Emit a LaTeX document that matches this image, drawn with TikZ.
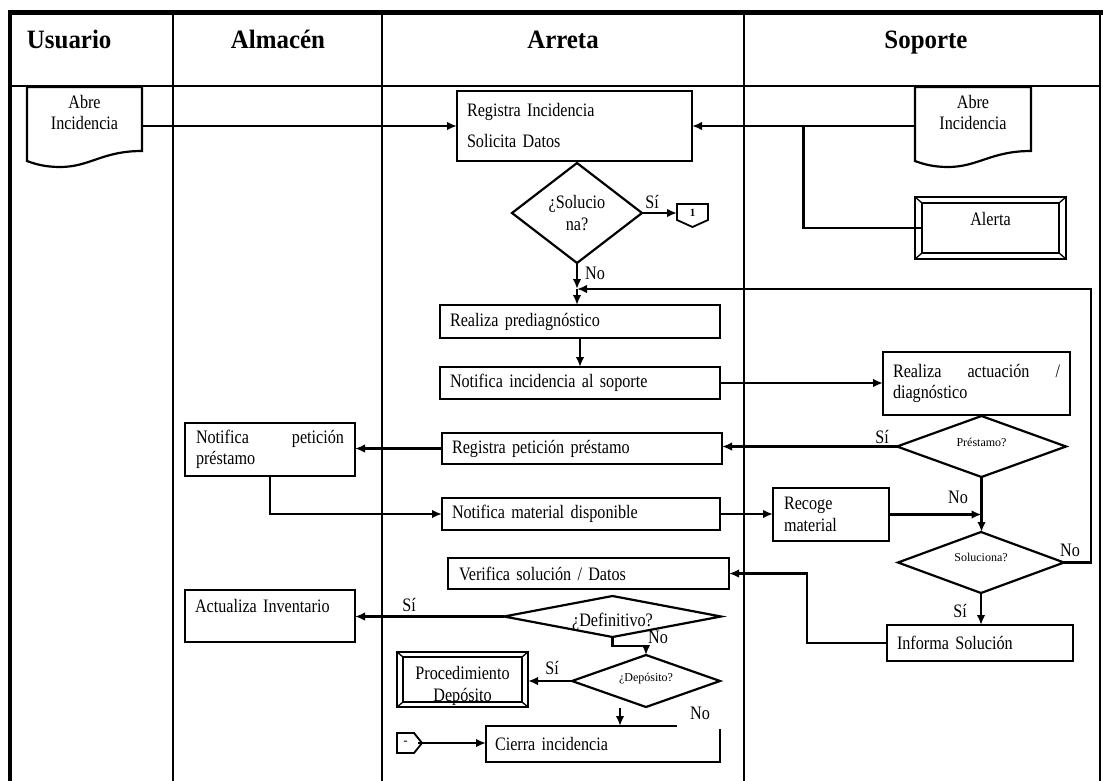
\documentclass[tikz,border=0pt]{standalone}
\usepackage{fontspec}
\setmainfont{Liberation Serif}
\newfontfamily\narrowserif[FakeStretch=0.85,WordSpace=0.85]{Liberation Serif}
\newfontfamily\headserif[FakeStretch=0.94]{Liberation Serif}
\usetikzlibrary{arrows.meta,calc}

% bevelled frame inside a drawn node: inner rectangle and corner cuts
\newcommand\bevelframe[3]{%
  \draw[line width=1.4pt] ($(#1.north west)+(#2,-#3)$) rectangle ($(#1.south east)+(-#2,#3)$);
  \draw[line width=1.3pt] (#1.north west) -- ++(#2,-#3) (#1.north east) -- ++(-#2,-#3)
        (#1.south west) -- ++(#2,#3) (#1.south east) -- ++(-#2,#3);}
% document symbol with a wavy lower edge below the node
\newcommand\docpath[1]{%
  \draw[shp] (#1.north west) -- (#1.north east) -- (#1.south east)
    .. controls +(-40,0) and +(30,0) .. ($(#1.south west)+(33,-16)$)
    .. controls +(-15,0) and +(8,-3) .. ($(#1.south west)+(0,-10)$) -- cycle;}
% decision symbol through the mid-points of a node's sides
\newcommand\diampath[1]{%
  \draw[shp] (#1.west) -- (#1.north) -- (#1.east) -- (#1.south) -- cycle;}

\begin{document}
\begin{tikzpicture}[x=1pt,y=1pt,
  every node/.style={inner sep=0pt,outer sep=0pt},
  body/.style={font=\narrowserif\fontsize{19}{21.5}\selectfont},
  small/.style={font=\fontsize{12}{14}\selectfont},
  head/.style={font=\headserif\fontsize{26.5}{30}\selectfont\bfseries},
  lane/.style={line width=2.9pt},
  shp/.style={line width=2.2pt},
  wire/.style={line width=2.2pt},
  arr/.style={line width=2.2pt,-{Latex[length=10pt,width=8.5pt]}},
  box/.style={draw,line width=2.2pt,body,inner xsep=10pt,align=left},
  plainbox/.style={body,inner xsep=9pt,align=left},
  bevel/.style={draw,line width=2.6pt,body,align=center},
  docn/.style={body,align=center},
  dia/.style={body,align=center},
  lbl/.style={body}]

\useasboundingbox (0,0) rectangle (1103,-781);

% lanes and header
\draw[line width=5pt] (8,-13) -- (1103,-13);
\draw[line width=3.2pt] (10,-13) -- (10,-781);
\draw[lane] (173,-13) -- (173,-781);
\draw[lane] (382,-13) -- (382,-781);
\draw[lane] (744,-13) -- (744,-781);
\draw[lane] (1100,-13) -- (1100,-781);
\draw[line width=2.7pt] (10,-86) -- (1100,-86);

\node[head,anchor=base west] (hU) at (27,-49) {Usuario};
\node[head,anchor=base] (hA) at (278,-49) {Almacén};
\node[head,anchor=base] (hR) at (563,-49) {Arreta};
\node[head,anchor=base] (hS) at (926,-49) {Soporte};

% documents
\node[docn,minimum width=115pt,minimum height=64pt] (abU) at (84.5,-119)
  {Abre\\Incidencia\rule[-13pt]{0pt}{13pt}};
\docpath{abU}
\node[docn,minimum width=116pt,minimum height=64pt] (abS) at (973,-119)
  {Abre\\Incidencia\rule[-13pt]{0pt}{13pt}};
\docpath{abS}

% Arreta lane
\node[box,minimum width=235pt,minimum height=70pt,text width=215pt] (reg) at (574.5,-126)
  {Registra Incidencia\\[9.5pt]Solicita Datos};
\node[dia,minimum width=130pt,minimum height=100pt] (sol) at (577,-213) {¿Solucio\\na?};
\diampath{sol}
\node[font=\fontsize{11}{12}\selectfont\bfseries,minimum width=31pt,minimum height=23pt,
  text height=8pt,text depth=7pt] (conn1) at (692.5,-215.5) {1};
\draw[line width=1.8pt] (conn1.north west) -- (conn1.north east) -- ($(conn1.south east)+(0,7)$)
  -- (conn1.south) -- ($(conn1.south west)+(0,7)$) -- cycle;

\node[box,minimum width=280pt,minimum height=33pt,text width=260pt] (pre) at (580,-321.5) {Realiza prediagnóstico};
\node[box,minimum width=280pt,minimum height=32pt,text width=260pt] (notif) at (580,-383) {Notifica incidencia al soporte};
\node[box,minimum width=280pt,minimum height=31pt,text width=260pt] (regpet) at (582,-448.5) {Registra petición préstamo};
\node[box,minimum width=278pt,minimum height=32pt,text width=258pt] (notmat) at (581,-514) {Notifica material disponible};
\node[box,minimum width=281pt,minimum height=31pt,text width=259pt,inner xsep=11pt] (verif) at (588.5,-573.5) {Verifica solución / Datos};
\node[dia,minimum width=217pt,minimum height=41pt,text height=24pt,text depth=3.5pt] (defin) at (612.5,-616.5) {¿Definitivo?};
\diampath{defin}
\node[dia,small,minimum width=148pt,minimum height=52pt,text height=8pt,text depth=8pt] (depo) at (646,-681) {¿Depósito?};
\diampath{depo}
\node[bevel,minimum width=131pt,minimum height=55pt] (proc) at (462.5,-679.5)
  {\rule{0pt}{26pt}Procedimiento\\Depósito};
\bevelframe{proc}{6}{5}
\node[plainbox,minimum width=234pt,minimum height=36pt,text width=216pt] (cierra) at (603,-744) {Cierra incidencia};
\draw[shp] ($(cierra.north east)+(-43,0)$) -- (cierra.north west) -- (cierra.south west)
  -- (cierra.south east) -- ($(cierra.north east)+(0,-3)$);
\node[font=\fontsize{12}{14}\selectfont\bfseries,minimum width=25pt,minimum height=20pt,xshift=-4pt] (conn2) at (409.5,-743) {-};
\draw[line width=1.8pt] ([xshift=4pt]conn2.north west) -- ($(conn2.north east)+(-4,0)$)
  -- ([xshift=4pt]conn2.east) -- ($(conn2.south east)+(-4,0)$) -- ([xshift=4pt]conn2.south west) -- cycle;

% Almacén lane
\node[box,minimum width=170pt,minimum height=53pt,text width=148pt] (notpet) at (270,-449.5)
  {Notifica\hfill petición\\préstamo};
\node[box,minimum width=170pt,minimum height=52pt,text width=150pt,text height=11pt,text depth=18pt] (actinv) at (270,-616)
  {Actualiza Inventario};

% Soporte lane
\node[bevel,minimum width=151pt,minimum height=62pt,text height=11pt,text depth=16pt] (alerta) at (990.5,-228) {Alerta};
\bevelframe{alerta}{7}{6}
\node[box,minimum width=187pt,minimum height=63pt,text width=167pt] (ract) at (976.5,-383.5)
  {Realiza\hfill actuación\hfill /\\diagnóstico};
\node[dia,small,minimum width=169pt,minimum height=61pt,text height=8pt,text depth=9pt] (prest) at (981.5,-446.5) {Préstamo?};
\diampath{prest}
\node[box,minimum width=114pt,minimum height=53pt,text width=94pt,inner xsep=11pt] (recoge) at (831,-514.5) {Recoge\\material};
\node[dia,small,minimum width=166pt,minimum height=61pt,text height=8pt,text depth=11pt] (solu2) at (981,-562.5) {Soluciona?};
\diampath{solu2}
\node[box,minimum width=186pt,minimum height=36pt,text width=166pt] (infsol) at (980,-643) {Informa Solución};

% connectors
\draw[arr] (abU.east |- reg.west) -- (reg.west);
\draw[arr] (abS.west |- reg.east) -- (reg.east);
\coordinate (br) at ($(reg.east)!0.5!(abS.west |- reg.east)$);
\draw[wire] (br) |- ([xshift=8pt]alerta.west);

\draw[arr] (sol.east) -- (conn1.west |- sol.east);
\node[lbl] (s1) at (652,-202) {Sí};
\coordinate (jn) at (577,-289);
\coordinate (lr) at (1091,-289);
\draw[arr] (sol.south) -- (jn);
\node[lbl] (n1) at (595,-273) {No};
\draw[arr] (jn) -- (jn |- pre.north);
\draw[arr] (solu2.east) -| (lr) -- (jn);
\node[lbl] (n3) at (1070,-550) {No};

\draw[arr] (pre.south) -- (notif.north);
\draw[arr] (notif.east) -- (notif.east -| ract.west);
\draw[arr] (prest.west) -- (prest.west -| regpet.east);
\node[lbl] (s2) at (882,-437) {Sí};
\draw[arr] (regpet.west) -- (regpet.west -| notpet.east);
\draw[arr] (notpet.south) |- (notmat.west);
\draw[arr] (notmat.east) -- (notmat.east -| recoge.west);
\draw[arr] (recoge.east) -- (recoge.east -| prest.south);
\node[lbl] (n2) at (958,-497) {No};
\draw[arr] (prest.south) -- (prest.south |- solu2.north);
\draw[arr] (solu2.south) -- (solu2.south |- infsol.north);
\node[lbl] (s3) at (960,-611) {Sí};
\draw[arr] (infsol.west) -- ++(-80,0) |- (verif.east);

\draw[arr] (defin.west) -- (defin.west -| actinv.east);
\node[lbl] (s4) at (409,-605) {Sí};
\draw[arr] (defin.south) -- ++(0,-9) -| (depo.north);
\node[lbl] (n4) at (658,-637) {No};
\draw[arr] (depo.west) -- (depo.west -| proc.east);
\node[lbl] (s5) at (552,-668) {Sí};
\coordinate (dn) at (620,-708);
\draw[arr] (dn) -- (dn |- cierra.north);
\node[lbl] (n5) at (700,-713) {No};
\draw[arr] (conn2.east) -- (conn2.east -| cierra.west);

\end{tikzpicture}
\end{document}
